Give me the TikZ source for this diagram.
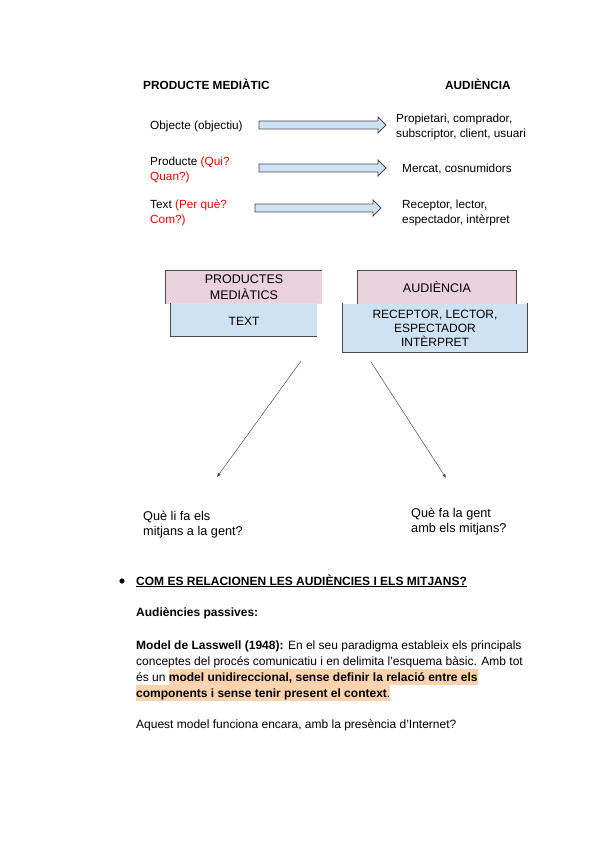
\documentclass[tikz,border=0pt]{standalone}
\usepackage{fontspec}
\setmainfont{Liberation Sans}
\usetikzlibrary{arrows.meta,positioning}
\definecolor{pk}{HTML}{EAD1DC}
\definecolor{lb}{HTML}{CFE2F3}
\definecolor{dk}{HTML}{4A4A4A}
\definecolor{rd}{HTML}{FF0000}
\definecolor{hl}{HTML}{FBD3AE}
\newcommand{\hlt}[1]{{\setlength{\fboxsep}{0pt}\colorbox{hl}{\vrule height 12pt depth 4pt width 0pt#1}}}
\tikzset{
  txt/.style={inner sep=0pt,anchor=base west,align=left,font=\fontsize{11.8}{15}\selectfont},
  hdr/.style={txt,font=\bfseries\fontsize{11.8}{15}\selectfont},
  body/.style={txt,font=\fontsize{12}{16}\selectfont},
  qst/.style={txt,font=\fontsize{12.7}{14.5}\selectfont},
  pbox/.style={fill=pk,inner sep=0pt,align=center,font=\fontsize{12}{14}\selectfont},
  bbox/.style={pbox,fill=lb},
  rim/.style={draw=dk,line width=0.9pt},
  blk/.style={fill=lb,draw=dk,line width=0.8pt,line join=miter},
  ar/.style={-{Latex[length=4pt,width=3.5pt]},draw=dk,line width=0.5pt},
}
\begin{document}
\begin{tikzpicture}[x=1pt,y=-1pt]
\useasboundingbox[fill=white] (0,0) rectangle (600,848);
% header row
\node[hdr] (hp) at (143,90) {PRODUCTE MEDIÀTIC};
\node[hdr] (ha) at (445,90) {AUDIÈNCIA};
% three rows with block arrows
\node[txt] (o1) at (150,129) {Objecte (objectiu)};
\node[txt] (o2) at (150,180) {Producte \textcolor{rd}{(Qui?}\\\textcolor{rd}{Quan?)}};
\node[txt] (o3) at (150,223) {Text \textcolor{rd}{(Per què?}\\\textcolor{rd}{Com?)}};
\node[txt] (a1) at (396,137) {Propietari, comprador,\\subscriptor, client, usuari};
\node[txt] (a2) at (402,172) {Mercat, cosnumidors};
\node[txt] (a3) at (402,223) {Receptor, lector,\\espectador, intèrpret};
\foreach \y/\a/\b in {125/259/386,168/259/386,208/255/381}
  \draw[blk] (\a,\y-4) -- (\b-8,\y-4) -- (\b-8,\y-8) -- (\b,\y) -- (\b-8,\y+8) -- (\b-8,\y+4) -- (\a,\y+4) -- cycle;
% stacked boxes
\node[pbox,minimum width=156pt,minimum height=33pt,font=\fontsize{12.5}{16.5}\selectfont] (p1) at (244,287) {PRODUCTES\\MEDIÀTICS};
\node[bbox,minimum width=146pt,minimum height=33pt] (b1) at (244,319.5) {};
\node[pbox,font=\fontsize{12}{14}\selectfont,fill=none] (t1) at (244,321) {TEXT};
\node[pbox,minimum width=158pt,minimum height=33pt,font=\fontsize{12.5}{16}\selectfont] (p2) at (437,287) {AUDIÈNCIA};
\node[bbox,minimum width=184pt,minimum height=49pt] (b2) at (435,328) {RECEPTOR, LECTOR,\\ESPECTADOR\\INTÈRPRET};
\draw[rim] (p1.south west) |- (p1.north east);
\draw[rim] (b1.north west) |- (b1.south east);
\draw[rim] (p2.south west) |- (p2.north east) -- (p2.south east);
\draw[rim] (b2.north west) |- (b2.south east) -- (b2.north east);
% two questions
\coordinate (l0) at (301,361);
\coordinate (l1) at (217,477);
\coordinate (r0) at (371,362);
\coordinate (r1) at (446,478);
\draw[ar] (l0) -- (l1);
\draw[ar] (r0) -- (r1);
\node[qst] (q1) at (143,535) {Què li fa els\\mitjans a la gent?};
\node[qst] (q2) at (411,532) {Què fa la gent\\amb els mitjans?};
% text below
\fill (122,581) circle (2.6pt);
\node[body,font=\bfseries\fontsize{12}{16}\selectfont] (h1) at (136,585) {\underline{COM ES RELACIONEN LES AUDIÈNCIES I ELS MITJANS?}};
\node[body,font=\bfseries\fontsize{12}{16}\selectfont] (h2) at (136,616) {Audiències passives:};
\node[body] (m1) at (136,649) {\textbf{Model de Lasswell (1948):} En el seu paradigma estableix els principals};
\node[body] (m2) at (136,665) {conceptes del procés comunicatiu i en delimita l'esquema bàsic. Amb tot};
\node[body] (m3) at (136,681) {és un \hlt{\textbf{model unidireccional, sense definir la relació entre els}}};
\node[body] (m4) at (136,697) {\hlt{\textbf{components i sense tenir present el context}.}};
\node[body] (m5) at (136,728) {Aquest model funciona encara, amb la presència d'Internet?};
\end{tikzpicture}
\end{document}
